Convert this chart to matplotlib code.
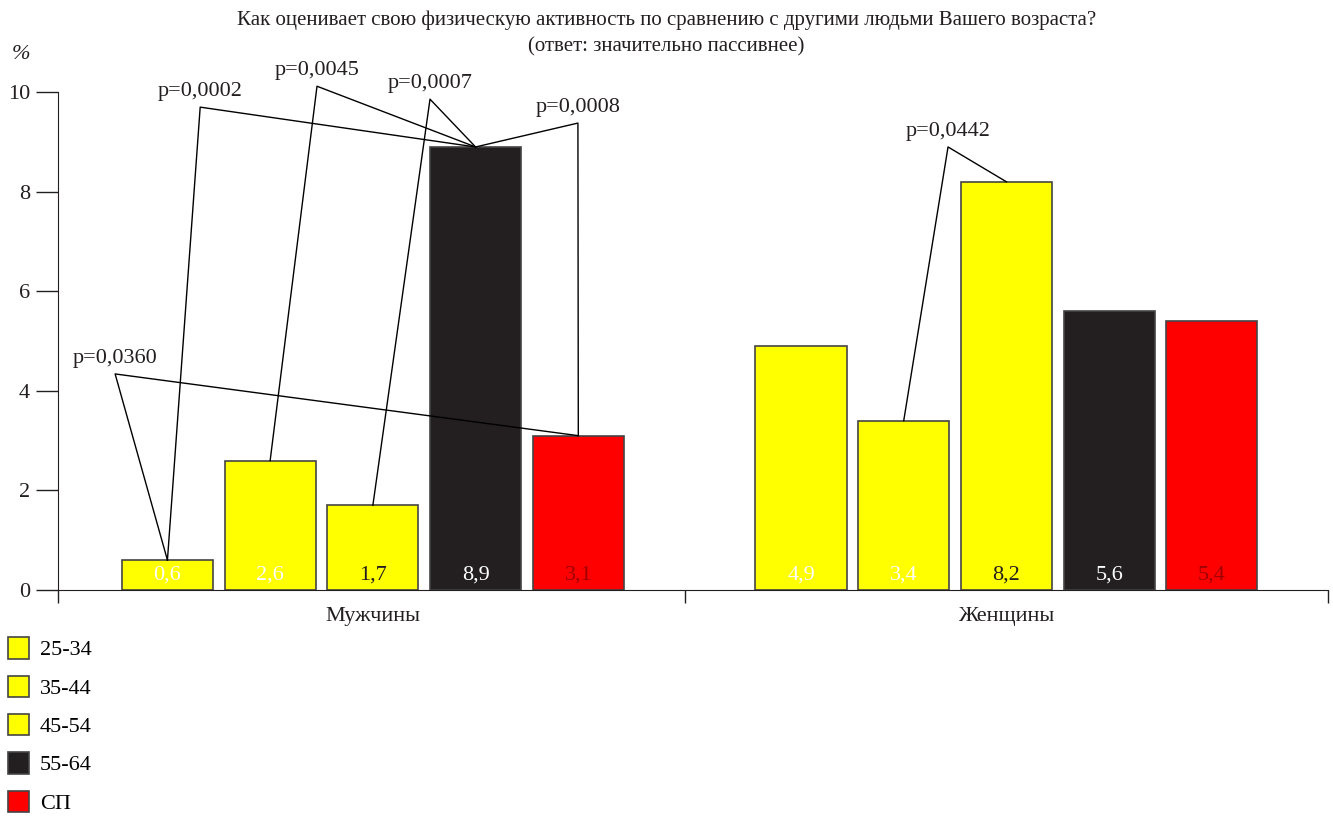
import numpy as np
import matplotlib.pyplot as plt
from matplotlib.patches import Patch

plt.rcParams['font.family'] = ['Liberation Serif', 'DejaVu Serif']

groups = ['Мужчины', 'Женщины']
series = ['25-34', '35-44', '45-54', '55-64', 'СП']
men = [0.6, 2.6, 1.7, 8.9, 3.1]
women = [4.9, 3.4, 8.2, 5.6, 5.4]
colors = ['#ffff00', '#ffff00', '#ffff00', '#231f20', '#ff0000']
txt_colors = ['white', 'white', '#231f20', 'white', '#a00000']

# comparisons: (group index, bar a, bar b, label)
comps = [(0, 0, 4, 'p=0,0360'),
         (0, 0, 3, 'p=0,0002'),
         (0, 1, 3, 'p=0,0045'),
         (0, 2, 3, 'p=0,0007'),
         (0, 4, 3, 'p=0,0008'),
         (1, 1, 2, 'p=0,0442')]
apex = [(0.090, 4.34), (0.224, 9.70), (0.408, 10.12), (0.586, 9.86),
        (0.819, 9.38), (1.402, 8.90)]

fig = plt.figure(figsize=(13.33, 8.16), dpi=100)
ax = fig.add_axes([0.0435, 0.277, 0.9525, 0.61])

centers = [0.496, 1.494]
step = 0.1618
width = 0.1435
vals = [men, women]
xpos = []
for g in range(2):
    xs = centers[g] + (np.arange(5) - 2) * step
    xpos.append(xs)
    for i in range(5):
        ax.bar(xs[i], vals[g][i], width=width, color=colors[i],
               edgecolor='#444444', linewidth=1.2)
        ax.text(xs[i], 0.3, str(vals[g][i]).replace('.', ','), ha='center',
                va='center', color=txt_colors[i], fontsize=16)

for (g, a, b, lab), (px, py) in zip(comps, apex):
    xa, ya = xpos[g][a], vals[g][a]
    xb, yb = xpos[g][b], vals[g][b]
    ax.plot([xa, px, xb], [ya, py, yb], color='black', lw=1, clip_on=False)
    ax.text(px, py + 0.12, lab, ha='center', va='bottom', fontsize=16,
            color='#231f20', clip_on=False)

ax.set_xlim(0, 2)
ax.set_ylim(0, 10)
ax.spines['top'].set_visible(False)
ax.spines['right'].set_visible(False)
ax.spines['left'].set_color('#231f20')
ax.spines['bottom'].set_color('#231f20')
ax.set_yticks([0, 2, 4, 6, 8, 10])
ax.tick_params(axis='y', length=16, width=1, labelsize=16, colors='#231f20', pad=4)
ax.set_xticks([0, 0.988, 2])
ax.set_xticklabels([])
ax.tick_params(axis='x', which='major', length=9, width=1, colors='#231f20')
ax.set_xticks(centers, minor=True)
ax.set_xticklabels(groups, minor=True, fontsize=16, color='#231f20')
ax.tick_params(axis='x', which='minor', length=0, pad=12)

fig.text(0.5, 0.975, 'Как оценивает свою физическую активность по сравнению с другими людьми Вашего возраста?',
         ha='center', va='center', fontsize=15, color='#231f20')
fig.text(0.5, 0.942, '(ответ: значительно пассивнее)', ha='center', va='center',
         fontsize=15, color='#231f20')
fig.text(0.009, 0.928, '%', fontsize=16, style='italic', color='#231f20')

handles = [Patch(facecolor=c, edgecolor='#444444', lw=1.2) for c in colors]
fig.legend(handles, series, loc='upper left', bbox_to_anchor=(-0.001, 0.23),
           frameon=False, fontsize=16, handlelength=0.95, handleheight=1.1,
           labelspacing=0.68, handletextpad=0.5, borderaxespad=0)

fig.savefig('out.png', dpi=100)
